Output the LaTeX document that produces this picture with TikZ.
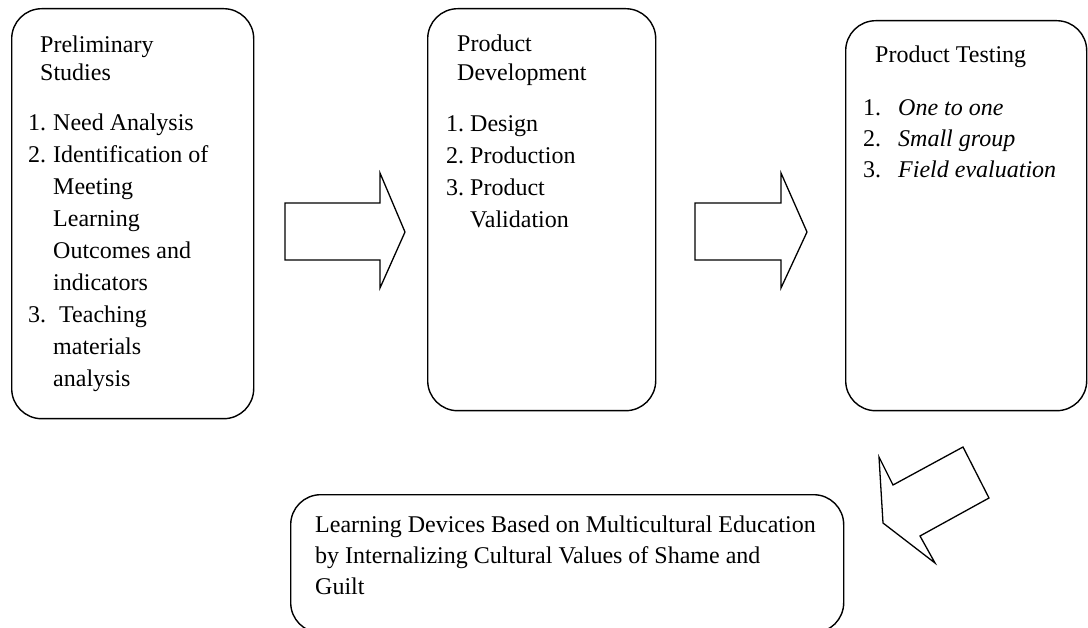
\documentclass[tikz,border=0pt]{standalone}
\usepackage{fontspec}
\setmainfont{Liberation Serif}
\begin{document}
\begin{tikzpicture}[x=1pt,y=-1pt,
  stagebox/.style={draw, line width=1.4pt, rounded corners=30pt, inner sep=0pt, anchor=north west},
  txt/.style={anchor=base west, inner sep=0pt, font=\fontsize{24}{28}\selectfont},
  blockarrow/.style={draw, line width=1.3pt, line join=miter}]
\useasboundingbox (0,0) rectangle (1088,628);

% stage boxes
\node[stagebox, minimum width=242, minimum height=410] (prelim) at (11,8) {};
\node[stagebox, minimum width=228, minimum height=402] (devel) at (427,8) {};
\node[stagebox, minimum width=241, minimum height=390] (testing) at (845,20) {};
\node[stagebox, minimum width=553, minimum height=138] (result) at (290,494) {};

% Preliminary Studies
\node[txt] (p1) at (40,53) {Preliminary};
\node[txt] (p2) at (40,81) {Studies};
\foreach \n/\t [count=\k from 0] in {1./Need Analysis, 2./Identification of, /Meeting, /Learning, /Outcomes and, /indicators, 3./\ Teaching, /materials, /analysis}
  \node[txt] (pl\k) at (28,131+32*\k) {\makebox[25pt][l]{\n}\t};

% Product Development
\node[txt] (d1) at (457,52) {Product};
\node[txt] (d2) at (457,81) {Development};
\foreach \n/\t [count=\k from 0] in {1./Design, 2./Production, 3./Product, /Validation}
  \node[txt] (dl\k) at (446,132+31.7*\k) {\makebox[24pt][l]{\n}\t};

% Product Testing
\node[txt] (t1) at (875,63) {Product Testing};
\foreach \n/\t [count=\k from 0] in {1./One to one, 2./Small group, 3./Field evaluation}
  \node[txt] (tl\k) at (863,116+31*\k) {\makebox[35pt][l]{\n}\textit{\t}};

% Outcome
\node[txt] (r1) at (315,532) {Learning Devices Based on Multicultural Education};
\node[txt] (r2) at (315,563) {by Internalizing Cultural Values of Shame and};
\node[txt] (r3) at (315,594) {Guilt};

% block arrows
\draw[blockarrow] (285,203) -- (380,203) -- (380,173) -- (405,232) -- (380,288) -- (380,260) -- (285,260) -- cycle;
\draw[blockarrow] (695,203) -- (781,203) -- (781,173) -- (807,232) -- (781,288) -- (781,260) -- (695,260) -- cycle;
\draw[blockarrow] (963,447) -- (893,485) -- (879,457) -- (883,523) -- (935,563) -- (920,536) -- (989,498) -- cycle;
\end{tikzpicture}
\end{document}
